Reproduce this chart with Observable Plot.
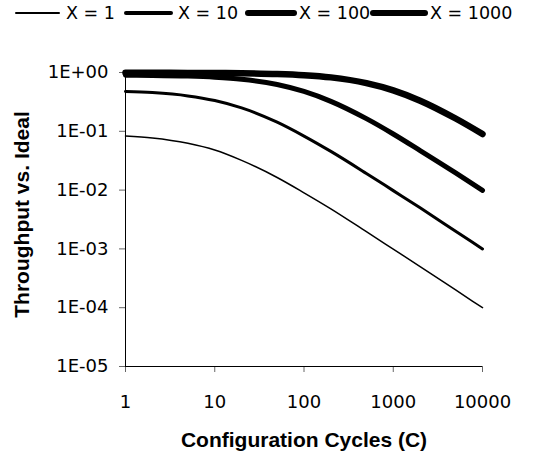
<!DOCTYPE html>
<html><head><meta charset="utf-8">
<script src="https://cdn.jsdelivr.net/npm/d3@7"></script>
<script src="https://cdn.jsdelivr.net/npm/@observablehq/plot@0.6"></script>
<style>
body{margin:0;background:#fff;}
#wrap{position:relative;width:540px;height:457px;overflow:hidden;}
#legend{position:relative;height:37px;width:540px;font-family:"DejaVu Sans";font-size:17.5px;color:#000;}
.item{position:absolute;top:0;height:26px;display:flex;align-items:center;white-space:nowrap;}
.sample{position:absolute;border-radius:4px;background:#000;}
</style></head><body>
<div id="wrap"><div id="legend"></div><div id="chart"></div></div>
<script>
const cycles = [1, 2, 5, 10, 20, 50, 100, 200, 500, 1000, 2000, 5000, 10000];
const seriesNames = ["X = 1", "X = 10", "X = 100", "X = 1000"];
const valsX1 = [0.083, 0.077, 0.0625, 0.048, 0.032, 0.0164, 0.0090, 0.0048, 0.00196, 0.00099, 0.0005, 0.0002, 0.0001];
const valsX10 = [0.476, 0.455, 0.40, 0.333, 0.25, 0.143, 0.083, 0.0455, 0.0192, 0.0098, 0.005, 0.002, 0.001];
const valsX100 = [0.90, 0.893, 0.87, 0.833, 0.77, 0.625, 0.476, 0.323, 0.164, 0.090, 0.047, 0.0196, 0.0099];
const valsX1000 = [0.99, 0.988, 0.985, 0.98, 0.971, 0.943, 0.90, 0.826, 0.66, 0.4975, 0.332, 0.165, 0.090];
const xTicks = [1, 10, 100, 1000, 10000];
const xTickLabels = ["1", "10", "100", "1000", "10000"];
const yTicks = [1e-5, 1e-4, 1e-3, 1e-2, 1e-1, 1];
const yTickLabels = ["1E-05", "1E-04", "1E-03", "1E-02", "1E-01", "1E+00"];
const xTitle = "Configuration Cycles (C)";
const yTitle = "Throughput vs. Ideal";

const allVals = [valsX1, valsX10, valsX100, valsX1000];
const widths = [1.5, 3, 5, 6.5];
const legendWidths = [1.5, 3.5, 6, 6];
const sampleLeft = [15, 124, 245, 370];
const sampleLen = [45, 49, 52, 58];
const textLeft = [66, 178, 299, 430];

// legend
const legend = document.getElementById("legend");
seriesNames.forEach((s, i) => {
  const sm = document.createElement("div");
  sm.className = "sample";
  sm.style.left = sampleLeft[i] + "px";
  sm.style.width = sampleLen[i] + "px";
  sm.style.height = legendWidths[i] + "px";
  sm.style.top = (13 - legendWidths[i] / 2) + "px";
  legend.appendChild(sm);
  const t = document.createElement("div");
  t.className = "item";
  t.style.left = textLeft[i] + "px";
  t.textContent = s;
  legend.appendChild(t);
});

const data = [];
seriesNames.forEach((s, i) => cycles.forEach((c, j) => data.push({series: s, c, v: allVals[i][j]})));

const chart = Plot.plot({
  width: 540, height: 420,
  marginTop: 35, marginBottom: 91, marginLeft: 125, marginRight: 58,
  style: {fontFamily: "DejaVu Sans", fontSize: "18px", color: "#000", background: "#fff"},
  x: {type: "log", domain: [1, 10000]},
  y: {type: "log", domain: [1e-5, 1]},
  marks: [
    Plot.axisX({ticks: xTicks, tickFormat: d => xTickLabels[xTicks.indexOf(d)], tickSize: 6, tickPadding: 23, stroke: "#666", label: null}),
    Plot.axisY({ticks: yTicks, tickFormat: d => yTickLabels[yTicks.indexOf(d)], tickSize: 6, tickPadding: 11, stroke: "#666", label: null}),
    Plot.ruleX([1], {stroke: "#000", strokeWidth: 1}),
    Plot.ruleY([1e-5], {stroke: "#000", strokeWidth: 1}),
    ...seriesNames.map((s, i) => Plot.line(data.filter(d => d.series === s), {
      x: "c", y: "v", stroke: "#000", strokeWidth: widths[i], curve: "monotone-x", strokeLinecap: "round", strokeLinejoin: "round"
    })),
    Plot.text([xTitle], {frameAnchor: "bottom", dy: 74, lineAnchor: "middle", textAnchor: "middle", fontWeight: "bold", fontSize: 21, fontFamily: "Liberation Sans", fill: "#000"}),
    Plot.text([yTitle], {frameAnchor: "left", dx: -103, dy: -5, rotate: -90, lineAnchor: "middle", textAnchor: "middle", fontWeight: "bold", fontSize: 21, fontFamily: "Liberation Sans", fill: "#000"})
  ]
});
document.getElementById("chart").appendChild(chart);
</script>
</body></html>
